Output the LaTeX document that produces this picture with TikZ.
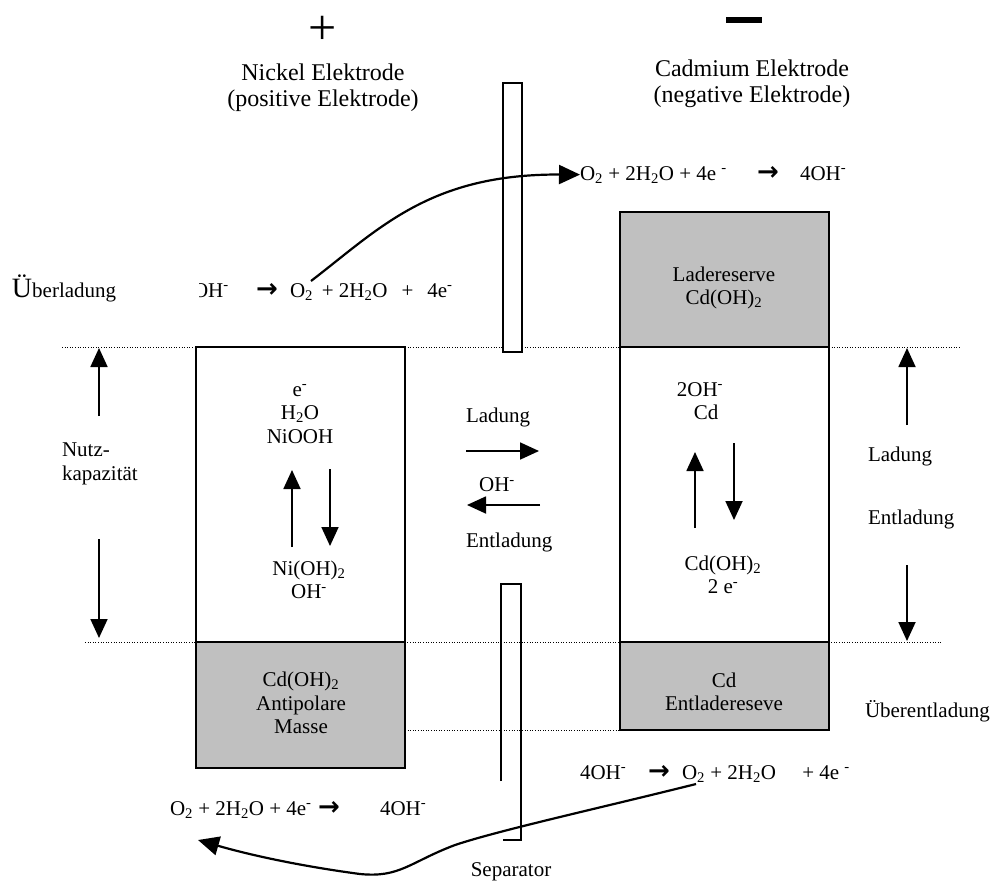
\documentclass[tikz,border=0pt]{standalone}
\usepackage{fontspec}
\setmainfont{Liberation Serif}
\newfontfamily\arrfont{DejaVu Sans}
\usetikzlibrary{arrows.meta}
\definecolor{boxgrey}{HTML}{C0C0C0}
\newcommand{\sbs}[1]{\textsubscript{#1}}
\newcommand{\sps}[1]{\textsuperscript{#1}}
\newcommand{\rarr}{{\fontsize{26}{26}\selectfont\arrfont\bfseries →}}
\begin{document}
\begin{tikzpicture}[x=1pt,y=-1pt,
  font=\fontsize{21}{23.5}\selectfont,
  every node/.style={inner sep=0pt,outer sep=0pt},
  box/.style={draw,line width=1.5pt,fill=white,minimum width=209pt},
  greybox/.style={box,fill=boxgrey},
  dots/.style={line width=1pt,dash pattern=on 1pt off 1.6pt},
  arr/.style={line width=1.8pt,-{Triangle[length=19pt,width=17pt]}},
  curvearr/.style={line width=2.2pt,-{Triangle[length=21pt,width=19pt]}},
  ctext/.style={align=center},
  head/.style={align=center,font=\fontsize{24}{26}\selectfont},
  rx/.style={anchor=base west}]
\useasboundingbox (0,0) rectangle (996,884);

% dotted levels
\draw[dots] (62,347) -- (960,347);
\draw[dots] (85,642) -- (942,642);
\draw[dots] (405,730) -- (620,730);

% boxes
\node[box,minimum height=295pt] (lwhite) at (300.5,494.5) {};
\node[greybox,minimum height=126pt] (lgrey) at (300.5,705) {};
\node[greybox,minimum height=135pt] (rgreytop) at (724.5,279.5) {};
\node[box,minimum height=295pt] (rwhite) at (724.5,494.5) {};
\node[greybox,minimum height=88pt] (rgreybot) at (724.5,686) {};

% separators
\draw[line width=1.5pt,fill=white] (503,83) rectangle (522,352);
\draw[line width=1.5pt] (501,781) -- (501,584) -- (521,584) -- (521,840) -- (503,840);
\node (sep) at (511,872) {Separator};

% polarity signs and headings
\node (plus) at (323,30) {\fontsize{50}{50}\selectfont +};
\fill (726,17) rectangle (762,23);
\coordinate (minus) at (744,20);
\node[head] (nickel) at (323,88) {Nickel Elektrode\\(positive Elektrode)};
\node[head] (cadmium) at (752,84) {Cadmium Elektrode\\(negative Elektrode)};

% box texts
\node[ctext] (ltop) at (300,414) {e\sps{-}\\H\sbs{2}O\\NiOOH};
\node[ctext] (lbot) at (309,580) {Ni(OH)\sbs{2}\\OH\sps{-}};
\node[ctext] (lgreytxt) at (301,703) {Cd(OH)\sbs{2}\\Antipolare\\Masse};
\node[ctext] (rgreytoptxt) at (724,288) {Ladereserve\\Cd(OH)\sbs{2}};
\node[ctext] (rtop) at (700,401) {2OH\sps{-}\\\hspace*{12pt}Cd};
\node[ctext] (rbot) at (723,575) {Cd(OH)\sbs{2}\\2 e\sps{-}};
\node[ctext] (rgreybottxt) at (724,692) {Cd\\Entladereseve};

% arrows inside boxes
\coordinate (lu1) at (292,547); \coordinate (lu2) at (292,470);
\coordinate (ld1) at (330,469); \coordinate (ld2) at (330,546);
\draw[arr] (lu1) -- (lu2);
\draw[arr] (ld1) -- (ld2);
\coordinate (ru1) at (695,528); \coordinate (ru2) at (695,452);
\coordinate (rd1) at (734,443); \coordinate (rd2) at (734,520);
\draw[arr] (ru1) -- (ru2);
\draw[arr] (rd1) -- (rd2);

% middle
\node[anchor=west] (mlad) at (466,417) {Ladung};
\node (moh) at (497,485) {OH\sps{-}};
\node[anchor=west] (mentl) at (466,542) {Entladung};
\coordinate (mr1) at (466,451); \coordinate (mr2) at (539,451);
\coordinate (ml1) at (540,505); \coordinate (ml2) at (467,505);
\draw[arr] (mr1) -- (mr2);
\draw[arr] (ml1) -- (ml2);

% left side
\node[anchor=base west] (ueberl) at (12,297) {{\fontsize{28}{28}\selectfont Ü}berladung};
\node[anchor=west,align=left] (nutz) at (62,464) {Nutz-\\kapazität};
\coordinate (nu1) at (99,416); \coordinate (nu2) at (99,348);
\coordinate (nd1) at (99,539); \coordinate (nd2) at (99,638);
\draw[arr] (nu1) -- (nu2);
\draw[arr] (nd1) -- (nd2);

% right side
\node[anchor=west] (rlad) at (868,456) {Ladung};
\node[anchor=west] (rentl) at (868,519) {Entladung};
\node[anchor=west] (ueberentl) at (865,711) {Überentladung};
\coordinate (su1) at (907,425); \coordinate (su2) at (907,348);
\coordinate (sd1) at (907,565); \coordinate (sd2) at (907,641);
\draw[arr] (su1) -- (su2);
\draw[arr] (sd1) -- (sd2);

% reactions
\node[rx] (trO2) at (580,180) {O\sbs{2} + 2H\sbs{2}O + 4e \sps{-}};
\node[rx] (trArr) at (757,180) {\rarr};
\node[rx] (trOH) at (800,180) {4OH\sps{-}};

\begin{scope}
\clip (199,250) rectangle (250,320);
\node[rx] (tlOH) at (193,297) {OH\sps{-}};
\end{scope}
\node[rx] (tlArr) at (256,297) {\rarr};
\node[rx] (tlO2) at (290,297) {O\sbs{2}\, + 2H\sbs{2}O \, + \, 4e\sps{-}};

\node[rx] (brOH) at (580,779) {4OH\sps{-}};
\node[rx] (brArr) at (648,779) {\rarr};
\node[rx] (brO2) at (682,779) {O\sbs{2} + 2H\sbs{2}O \quad + 4e \sps{-}};

\node[rx] (blO2) at (170,815) {O\sbs{2} + 2H\sbs{2}O + 4e\sps{-}};
\node[rx] (blArr) at (318,815) {\rarr};
\node[rx] (blOH) at (380,815) {4OH\sps{-}};

% curved connectors
\coordinate (c1) at (311,281);
\draw[curvearr] (c1) .. controls (380,228) and (430,174) .. (trO2.west);
\coordinate (c2) at (696,784);
\coordinate (c3) at (198,840);
\draw[curvearr] (c2) .. controls (600,808) and (500,830) .. (455,845)
  .. controls (410,862) and (400,878) .. (360,874)
  .. controls (300,866) and (250,855) .. (c3);
\end{tikzpicture}
\end{document}
